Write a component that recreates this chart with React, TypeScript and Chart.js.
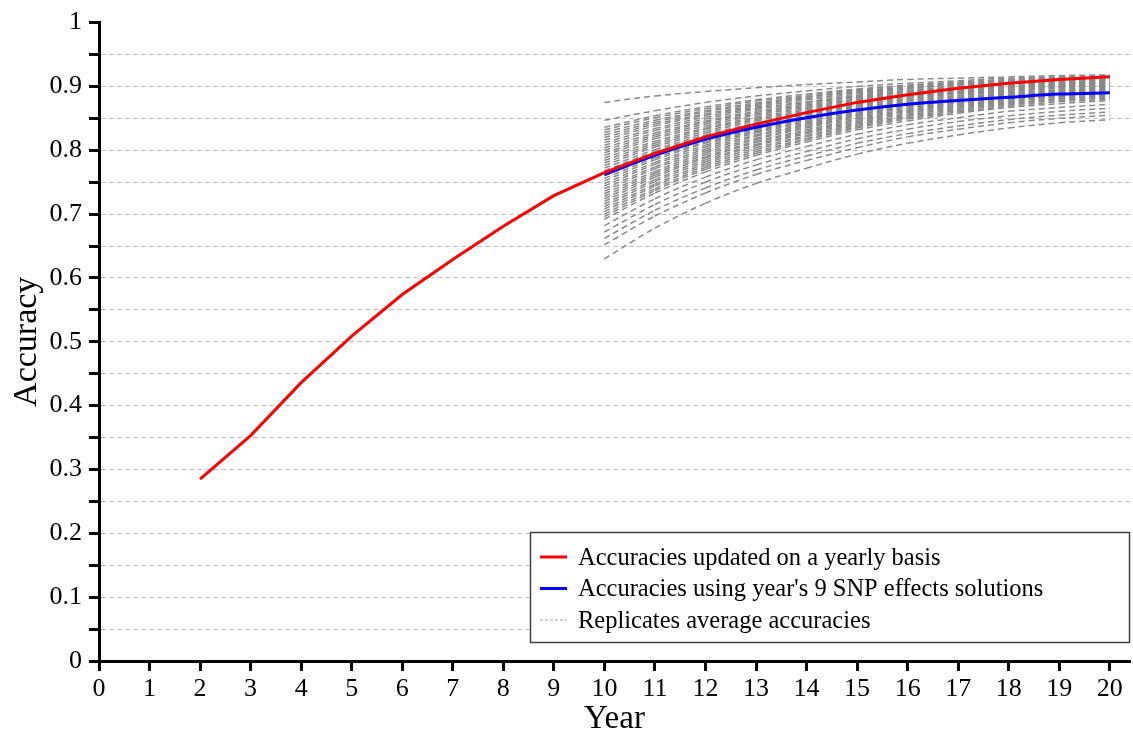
import React, { useEffect, useRef } from "react";
import { Chart, registerables } from "chart.js";

Chart.register(...registerables);

// ---------- data ----------
const yearlyYears = [2, 3, 4, 5, 6, 7, 8, 9, 10, 11, 12, 13, 14, 15, 16, 17, 18, 19, 20];
const updatedYearly = [0.285, 0.353, 0.436, 0.509, 0.574, 0.629, 0.681, 0.729, 0.765, 0.795, 0.821, 0.841, 0.859, 0.875, 0.887, 0.897, 0.905, 0.911, 0.915];

const snpYears = [10, 11, 12, 13, 14, 15, 16, 17, 18, 19, 20];
const snpSolutions = [0.762, 0.792, 0.817, 0.836, 0.851, 0.863, 0.872, 0.878, 0.883, 0.888, 0.890];

const replicateYears = [10, 11, 12, 13, 14, 15, 16, 17, 18, 19, 20];
const rep01 = [0.875, 0.885, 0.892, 0.898, 0.903, 0.907, 0.911, 0.913, 0.915, 0.917, 0.918];
const rep02 = [0.847, 0.862, 0.875, 0.885, 0.893, 0.900, 0.905, 0.909, 0.913, 0.915, 0.917];
const rep03 = [0.836, 0.854, 0.868, 0.879, 0.888, 0.896, 0.902, 0.907, 0.911, 0.914, 0.916];
const rep04 = [0.832, 0.851, 0.865, 0.877, 0.886, 0.895, 0.901, 0.906, 0.910, 0.913, 0.915];
const rep05 = [0.828, 0.847, 0.862, 0.874, 0.884, 0.893, 0.899, 0.905, 0.909, 0.912, 0.914];
const rep06 = [0.824, 0.844, 0.860, 0.872, 0.883, 0.892, 0.898, 0.904, 0.908, 0.912, 0.914];
const rep07 = [0.820, 0.841, 0.857, 0.870, 0.881, 0.890, 0.897, 0.903, 0.907, 0.911, 0.913];
const rep08 = [0.816, 0.838, 0.855, 0.868, 0.879, 0.888, 0.896, 0.902, 0.906, 0.910, 0.912];
const rep09 = [0.812, 0.834, 0.852, 0.866, 0.876, 0.886, 0.894, 0.900, 0.905, 0.909, 0.911];
const rep10 = [0.808, 0.831, 0.849, 0.864, 0.875, 0.885, 0.893, 0.899, 0.905, 0.908, 0.911];
const rep11 = [0.804, 0.827, 0.846, 0.861, 0.873, 0.884, 0.892, 0.898, 0.904, 0.907, 0.910];
const rep12 = [0.800, 0.824, 0.844, 0.859, 0.871, 0.882, 0.891, 0.897, 0.903, 0.906, 0.909];
const rep13 = [0.796, 0.821, 0.841, 0.857, 0.869, 0.880, 0.889, 0.896, 0.901, 0.905, 0.908];
const rep14 = [0.792, 0.818, 0.838, 0.855, 0.867, 0.879, 0.888, 0.895, 0.900, 0.904, 0.907];
const rep15 = [0.788, 0.814, 0.835, 0.852, 0.865, 0.877, 0.886, 0.893, 0.899, 0.903, 0.906];
const rep16 = [0.784, 0.811, 0.833, 0.850, 0.863, 0.876, 0.885, 0.892, 0.899, 0.903, 0.906];
const rep17 = [0.780, 0.808, 0.830, 0.848, 0.861, 0.874, 0.884, 0.891, 0.898, 0.902, 0.905];
const rep18 = [0.776, 0.805, 0.827, 0.846, 0.859, 0.872, 0.883, 0.890, 0.897, 0.901, 0.904];
const rep19 = [0.772, 0.801, 0.824, 0.843, 0.857, 0.870, 0.881, 0.889, 0.895, 0.900, 0.903];
const rep20 = [0.768, 0.798, 0.822, 0.841, 0.855, 0.869, 0.880, 0.888, 0.894, 0.899, 0.902];
const rep21 = [0.764, 0.794, 0.819, 0.838, 0.853, 0.867, 0.878, 0.886, 0.893, 0.898, 0.901];
const rep22 = [0.760, 0.791, 0.816, 0.836, 0.851, 0.865, 0.877, 0.885, 0.892, 0.897, 0.900];
const rep23 = [0.756, 0.788, 0.813, 0.833, 0.849, 0.863, 0.875, 0.883, 0.890, 0.895, 0.899];
const rep24 = [0.752, 0.785, 0.811, 0.831, 0.847, 0.862, 0.874, 0.882, 0.889, 0.894, 0.898];
const rep25 = [0.748, 0.781, 0.808, 0.829, 0.845, 0.860, 0.872, 0.881, 0.888, 0.893, 0.897];
const rep26 = [0.744, 0.778, 0.805, 0.827, 0.843, 0.858, 0.871, 0.880, 0.887, 0.892, 0.896];
const rep27 = [0.740, 0.774, 0.802, 0.824, 0.841, 0.856, 0.869, 0.878, 0.886, 0.891, 0.895];
const rep28 = [0.736, 0.771, 0.799, 0.822, 0.839, 0.855, 0.868, 0.877, 0.885, 0.890, 0.894];
const rep29 = [0.732, 0.767, 0.796, 0.819, 0.837, 0.853, 0.866, 0.875, 0.883, 0.889, 0.893];
const rep30 = [0.728, 0.764, 0.793, 0.817, 0.835, 0.851, 0.864, 0.874, 0.882, 0.888, 0.892];
const rep31 = [0.724, 0.761, 0.790, 0.814, 0.832, 0.849, 0.862, 0.872, 0.880, 0.886, 0.890];
const rep32 = [0.720, 0.758, 0.788, 0.812, 0.830, 0.847, 0.861, 0.871, 0.879, 0.885, 0.889];
const rep33 = [0.716, 0.754, 0.785, 0.809, 0.828, 0.845, 0.859, 0.869, 0.878, 0.884, 0.888];
const rep34 = [0.712, 0.751, 0.782, 0.807, 0.826, 0.843, 0.857, 0.868, 0.876, 0.883, 0.887];
const rep35 = [0.708, 0.747, 0.779, 0.804, 0.823, 0.841, 0.855, 0.866, 0.874, 0.881, 0.885];
const rep36 = [0.704, 0.744, 0.776, 0.801, 0.821, 0.839, 0.853, 0.864, 0.873, 0.880, 0.884];
const rep37 = [0.700, 0.740, 0.773, 0.798, 0.818, 0.837, 0.851, 0.862, 0.871, 0.878, 0.882];
const rep38 = [0.696, 0.737, 0.770, 0.795, 0.816, 0.835, 0.849, 0.860, 0.869, 0.876, 0.880];
const rep39 = [0.692, 0.733, 0.766, 0.792, 0.813, 0.832, 0.846, 0.858, 0.867, 0.873, 0.878];
const rep40 = [0.682, 0.724, 0.758, 0.785, 0.806, 0.825, 0.840, 0.851, 0.861, 0.867, 0.872];
const rep41 = [0.672, 0.715, 0.750, 0.777, 0.798, 0.818, 0.833, 0.845, 0.854, 0.861, 0.866];
const rep42 = [0.662, 0.706, 0.741, 0.769, 0.791, 0.811, 0.826, 0.838, 0.848, 0.855, 0.860];
const rep43 = [0.652, 0.697, 0.733, 0.762, 0.784, 0.804, 0.821, 0.833, 0.843, 0.850, 0.855];
const rep44 = [0.630, 0.678, 0.717, 0.748, 0.772, 0.794, 0.811, 0.824, 0.835, 0.843, 0.848];
const replicates = [
  rep01, rep02, rep03, rep04, rep05, rep06, rep07, rep08, rep09, rep10, rep11,
  rep12, rep13, rep14, rep15, rep16, rep17, rep18, rep19, rep20, rep21, rep22,
  rep23, rep24, rep25, rep26, rep27, rep28, rep29, rep30, rep31, rep32, rep33,
  rep34, rep35, rep36, rep37, rep38, rep39, rep40, rep41, rep42, rep43, rep44,
];

const xTickValues = [0, 1, 2, 3, 4, 5, 6, 7, 8, 9, 10, 11, 12, 13, 14, 15, 16, 17, 18, 19, 20];
const yTickLabels = ["0", "0.1", "0.2", "0.3", "0.4", "0.5", "0.6", "0.7", "0.8", "0.9", "1"];

const legendLabels = [
  "Accuracies updated on a yearly basis",
  "Accuracies using year's 9 SNP effects solutions",
  "Replicates average accuracies",
];

const xTitle = "Year";
const yTitle = "Accuracy";

// ---------- styles ----------
const FONT = '"Liberation Serif", "Times New Roman", serif';
const RED = "#ff0000";
const BLUE = "#0000ff";
const GREY = "#8a8a8a";

const toPoints = (xs: number[], ys: number[]) => xs.map((x, i) => ({ x, y: ys[i] }));

const boxLegend = {
  id: "boxLegend",
  afterDraw(chart: any) {
    const { ctx, chartArea } = chart;
    const w = 600;
    const h = 110;
    const x = chartArea.right - w;
    const y = chartArea.bottom - 19 - h;
    ctx.save();
    ctx.fillStyle = "#ffffff";
    ctx.fillRect(x, y, w, h);
    ctx.strokeStyle = "#404040";
    ctx.lineWidth = 1.5;
    ctx.strokeRect(x + 0.5, y + 0.5, w - 1, h);
    const styles = [
      { color: RED, width: 3, dash: [] as number[] },
      { color: BLUE, width: 3, dash: [] as number[] },
      { color: "#a0a0a0", width: 1, dash: [3, 2] },
    ];
    ctx.font = `24.5px ${FONT}`;
    ctx.textBaseline = "alphabetic";
    ctx.textAlign = "left";
    legendLabels.forEach((label, i) => {
      const cy = y + 25 + i * 31.5;
      const s = styles[i];
      ctx.beginPath();
      ctx.setLineDash(s.dash);
      ctx.strokeStyle = s.color;
      ctx.lineWidth = s.width;
      ctx.moveTo(x + 10, cy);
      ctx.lineTo(x + 37, cy);
      ctx.stroke();
      ctx.setLineDash([]);
      ctx.fillStyle = "#000";
      ctx.fillText(label, x + 48, cy + 7.5);
    });
    ctx.restore();
  },
};

export default function App() {
  const ref = useRef<HTMLCanvasElement | null>(null);

  useEffect(() => {
    document.body.style.margin = "0";
    if (!ref.current) return;

    const replicateSets = replicates.map((vals, i) => ({
      label: `Replicate ${i + 1}`,
      data: toPoints(replicateYears, vals),
      borderColor: GREY,
      borderWidth: 1.5,
      borderDash: [6, 4],
      pointRadius: 0,
      fill: false,
      cubicInterpolationMode: "monotone" as const,
      // restart the dash pattern at each year so dashes line up in columns
      segment: {
        borderDashOffset: (c: any) => (c.p0DataIndex % 2 ? 10 : 0),
      },
    }));

    const chart = new Chart(ref.current, {
      type: "line",
      data: {
        datasets: [
          {
            label: legendLabels[0],
            data: toPoints(yearlyYears, updatedYearly),
            borderColor: RED,
            borderWidth: 3,
            pointRadius: 0,
            fill: false,
            tension: 0,
          },
          {
            label: legendLabels[1],
            data: toPoints(snpYears, snpSolutions),
            borderColor: BLUE,
            borderWidth: 3,
            pointRadius: 0,
            fill: false,
            cubicInterpolationMode: "monotone",
          },
          ...replicateSets,
        ],
      },
      options: {
        responsive: true,
        maintainAspectRatio: false,
        animation: false,
        events: [],
        layout: { padding: { top: 22, right: 3, left: 0, bottom: 0 } },
        plugins: {
          legend: { display: false },
          tooltip: { enabled: false },
          title: { display: false },
        },
        scales: {
          x: {
            type: "linear",
            min: 0,
            max: 20.4,
            afterBuildTicks: (s: any) => {
              s.ticks = xTickValues.map((v) => ({ value: v }));
            },
            afterFit: (s: any) => {
              s.height = 75;
            },
            ticks: {
              stepSize: 1,
              autoSkip: false,
              maxRotation: 0,
              color: "#000",
              padding: 3,
              font: { family: FONT, size: 26 },
              callback: (v: any) => String(v),
            },
            grid: {
              drawOnChartArea: false,
              drawTicks: true,
              tickLength: 10,
              tickColor: "#000",
              tickWidth: 3,
              color: "#000",
            },
            border: { display: true, color: "#000", width: 3 },
            title: {
              display: true,
              text: xTitle,
              color: "#000",
              font: { family: FONT, size: 33, lineHeight: 1 },
              padding: { top: 0, bottom: 0 },
            },
          },
          y: {
            type: "linear",
            min: 0,
            max: 1,
            afterFit: (s: any) => {
              s.width = 99;
            },
            ticks: {
              stepSize: 0.05,
              autoSkip: false,
              color: "#000",
              padding: 7,
              font: { family: FONT, size: 26 },
              callback: (v: any) => {
                const k = Math.round(Number(v) * 100);
                return k % 10 === 0 ? yTickLabels[k / 10] : "";
              },
            },
            grid: {
              color: (c: any) => {
                const v = c.tick ? c.tick.value : null;
                if (v === null || v === undefined) return "rgba(0,0,0,0)";
                const k = Math.round(v * 100);
                return k === 0 || k === 100 ? "rgba(0,0,0,0)" : "#c4c4c4";
              },
              lineWidth: 1,
              drawTicks: true,
              tickLength: 10,
              tickColor: "#000",
              tickWidth: 3,
              tickBorderDash: [],
            },
            border: { display: true, color: "#000", width: 3, dash: [5, 3] },
            title: {
              display: true,
              text: yTitle,
              color: "#000",
              font: { family: FONT, size: 34, lineHeight: 1 },
              padding: { top: 10, bottom: 0 },
            },
          },
        },
      },
      plugins: [boxLegend],
    });

    return () => chart.destroy();
  }, []);

  return (
    <div style={{ position: "relative", width: 1133, height: 736 }}>
      <canvas ref={ref} />
    </div>
  );
}
